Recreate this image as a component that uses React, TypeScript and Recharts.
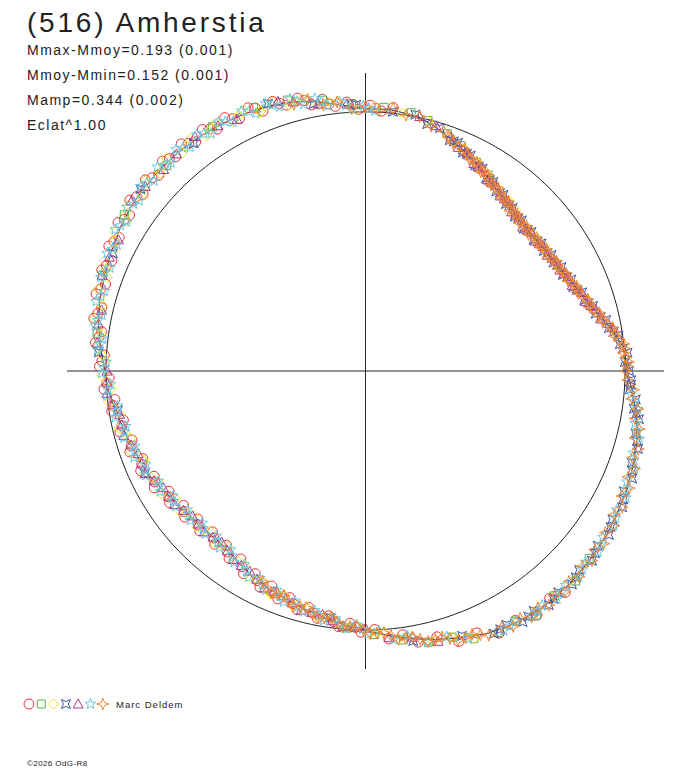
import React from "react";
import { ScatterChart, Scatter, XAxis, YAxis, ReferenceLine } from "recharts";

// rotational phase as an angle (degrees, counter-clockwise from +x) and relative radius
// (1 = mean brightness circle), one list per observer symbol
const redCircles: [number, number][] = [
  [84, 1.022], [86.5, 1.005], [89, 1.026], [91.5, 1.01], [94, 1.04], [96.5, 1.028], [99, 1.062],
  [101.5, 1.048], [104, 1.085], [106.5, 1.07], [109, 1.1], [111.5, 1.078], [114, 1.112], [116.5, 1.088],
  [119, 1.118], [121.5, 1.095], [124, 1.124], [126.5, 1.1], [129, 1.128], [131.5, 1.104], [134, 1.126],
  [136.5, 1.098], [139, 1.124], [141.5, 1.095], [144, 1.122], [146.5, 1.09], [149, 1.112], [151.5, 1.08],
  [154, 1.1], [156.5, 1.066], [159, 1.088], [161.5, 1.056], [164, 1.08], [166.5, 1.045], [169, 1.066],
  [171.5, 1.028], [174, 1.046], [176.5, 1.008], [179, 1.025], [181.5, 0.988], [184, 1.01], [186.5, 0.972],
  [189, 0.99], [191.5, 0.952], [194, 0.975], [196.5, 0.938], [199, 0.96], [201.5, 0.922], [204, 0.948],
  [206.5, 0.91], [209, 0.93], [211.5, 0.888], [214, 0.91], [216.5, 0.872], [219, 0.896], [221.5, 0.862],
  [224, 0.888], [226.5, 0.856], [229, 0.886], [231.5, 0.86], [234, 0.894], [236.5, 0.87], [239, 0.912],
  [241.5, 0.89], [244, 0.928], [246.5, 0.905], [249, 0.942], [251.5, 0.922], [254, 0.958], [256.5, 0.938],
  [259, 0.972], [261.5, 0.955], [264, 0.992], [266.5, 0.975], [269, 1.008], [272, 0.998], [275, 1.038],
  [278, 1.028], [281, 1.066], [285, 1.062], [289, 1.104], [293, 1.098], [297, 1.135], [301, 1.122],
  [305, 1.15], [309, 1.128], [312, 1.15],
  [87.8, 1.015], [92.7, 1.03], [97.8, 1.04], [102.7, 1.07], [107.8, 1.085], [112.7, 1.1], [117.8, 1.1],
  [122.7, 1.11], [127.8, 1.112], [132.7, 1.115], [137.8, 1.11], [142.7, 1.11], [147.8, 1.098],
  [152.7, 1.09], [157.8, 1.078], [162.7, 1.068], [167.8, 1.055], [172.7, 1.035], [177.8, 1.016],
  [182.7, 0.998], [187.8, 0.982], [192.7, 0.962], [197.8, 0.948], [202.7, 0.934], [207.8, 0.918],
  [212.7, 0.9], [217.8, 0.885], [222.7, 0.876], [227.8, 0.87], [232.7, 0.878], [237.8, 0.893],
  [242.7, 0.91], [247.8, 0.925], [252.7, 0.94], [257.8, 0.956], [262.7, 0.975], [267.8, 0.99],
];

const greenSquares: [number, number][] = [
  [58, 0.892], [62, 0.912], [67, 0.944], [71, 0.968], [76, 0.996], [80, 1.012], [86, 1.02], [93, 1.032],
  [99, 1.058], [106, 1.088], [113, 1.104], [122, 1.112], [134, 1.102], [147, 1.108], [160, 1.078],
  [172, 1.044], [266, 0.994], [272, 1.018], [278, 1.048], [283, 1.074], [288, 1.08], [292, 1.114],
  [297, 1.132], [301, 1.126], [305, 1.15], [310, 1.132], [315, 1.146], [320, 1.125],
];

const yellowDiamonds: [number, number][] = [
  [35, 0.842], [38, 0.838], [41, 0.836], [44, 0.84], [47, 0.848], [50, 0.858], [53, 0.87], [56, 0.882],
  [59, 0.898], [62, 0.914], [66, 0.938], [70, 0.962], [76, 0.994], [82, 1.004], [88, 1.018], [92, 1.008],
  [96, 1.045], [100, 1.042], [103, 1.08], [106, 1.068], [109, 1.098], [112, 1.08], [115, 1.11],
  [118, 1.088], [121, 1.118], [124, 1.094], [127, 1.122], [130, 1.098], [133, 1.124], [136, 1.098],
  [139, 1.122], [142, 1.094], [145, 1.118], [148, 1.086], [151, 1.105], [154, 1.072], [157, 1.092],
  [160, 1.058], [163, 1.078], [166, 1.044], [169, 1.062], [172, 1.026], [175, 1.038], [178, 1.0],
  [181, 1.015], [184, 0.982], [187, 0.996], [190, 0.958], [193, 0.975], [196, 0.94], [199, 0.956],
  [202, 0.922], [205, 0.942], [208, 0.904], [211, 0.918], [214, 0.882], [217, 0.898], [220, 0.865],
  [223, 0.886], [226, 0.858], [229, 0.884], [232, 0.862], [235, 0.894], [238, 0.88], [241, 0.916],
  [244, 0.9], [247, 0.934], [250, 0.918], [253, 0.952], [256, 0.938], [259, 0.97], [262, 0.958],
  [265, 0.994], [268, 0.982], [271, 1.016], [274, 1.01], [277, 1.046], [280, 1.04], [284, 1.078],
  [288, 1.078], [292, 1.114],
  [97.5, 1.046], [104.5, 1.072], [110.5, 1.09], [116.5, 1.1], [122.5, 1.105], [128.5, 1.11],
  [134.5, 1.112], [140.5, 1.106], [146.5, 1.102], [152.5, 1.088], [158.5, 1.074], [164.5, 1.06],
  [170.5, 1.042], [176.5, 1.018], [182.5, 0.998], [188.5, 0.976], [194.5, 0.958], [200.5, 0.938],
  [206.5, 0.922], [212.5, 0.9], [218.5, 0.88], [224.5, 0.872], [230.5, 0.87], [236.5, 0.885],
  [242.5, 0.906], [248.5, 0.926], [254.5, 0.944], [260.5, 0.964], [266.5, 0.988], [272.5, 1.012],
];

const blueCrosses: [number, number][] = [
  [0, 1.016], [2, 1.0], [4, 1.012], [6, 0.985], [8, 0.984], [10, 0.952], [12, 0.948], [14, 0.914],
  [16, 0.912], [18, 0.886], [20, 0.888], [22, 0.863], [24, 0.868], [26, 0.846], [28, 0.855], [30, 0.836],
  [32, 0.845], [34, 0.828], [36, 0.838], [38, 0.822], [40, 0.834], [42, 0.821], [44, 0.837], [46, 0.828],
  [48, 0.847], [50, 0.841], [52, 0.863], [54, 0.857], [56, 0.88], [58, 0.877], [60, 0.902], [62, 0.899],
  [64, 0.925], [66, 0.923], [68, 0.95], [70, 0.948], [73, 0.98], [76, 0.982], [79, 1.008], [84, 1.006],
  [92, 1.028], [101, 1.05], [110, 1.098], [127, 1.1], [141, 1.116], [155, 1.074], [176, 1.03],
  [189, 0.966], [205, 0.938], [262, 0.962], [280, 1.058], [290, 1.088], [296, 1.128], [299, 1.12],
  [302, 1.142], [305, 1.13], [308, 1.147], [311, 1.132], [314, 1.145], [317, 1.126], [320, 1.139],
  [323, 1.12], [326, 1.131], [329, 1.11], [332, 1.12], [335, 1.098], [338, 1.108], [341, 1.085],
  [344, 1.092], [347, 1.068], [350, 1.07], [352, 1.044], [354, 1.047], [356, 1.021], [358, 1.024],
  [1, 1.008], [5, 0.996], [9, 0.968], [13, 0.93], [17, 0.898], [21, 0.874], [25, 0.857], [29, 0.844],
  [33, 0.836], [37, 0.83], [41, 0.828], [45, 0.832], [49, 0.844], [53, 0.86], [57, 0.879], [61, 0.9],
  [65, 0.924], [69, 0.949], [297.5, 1.124], [303.5, 1.136], [309.5, 1.14], [315.5, 1.136],
  [321.5, 1.13], [327.5, 1.12], [333.5, 1.11], [339.5, 1.096], [345.5, 1.08], [351, 1.056], [357, 1.024],
];

const purpleTriangles: [number, number][] = [
  [10, 0.965], [12.5, 0.928], [15, 0.918], [17.5, 0.89], [20, 0.886], [22.5, 0.862], [25, 0.862],
  [27.5, 0.844], [30, 0.848], [32.5, 0.831], [35, 0.838], [37.5, 0.824], [40, 0.833], [42.5, 0.822],
  [45, 0.838], [47.5, 0.833], [50, 0.854], [52.5, 0.852], [55, 0.875], [57.5, 0.875], [60, 0.902],
  [62.5, 0.903], [65, 0.93], [67.5, 0.934], [70, 0.961], [74, 0.985], [78, 1.004], [94, 1.034],
  [100, 1.046], [108, 1.094], [117, 1.09], [126, 1.118], [135, 1.1], [144, 1.115], [152, 1.078],
  [160, 1.08], [167, 1.044], [174, 1.04], [180, 0.996], [185, 1.0], [190, 0.962], [195, 0.964],
  [200, 0.932], [205, 0.936], [210, 0.9], [215, 0.898], [220, 0.87], [225, 0.878], [230, 0.862],
  [235, 0.888], [240, 0.892], [245, 0.924], [250, 0.922], [255, 0.955], [260, 0.954], [265, 0.99],
  [270, 0.993], [275, 1.033], [280, 1.043], [285, 1.08],
  [11.2, 0.95], [16.2, 0.904], [21.2, 0.874], [26.2, 0.853], [31.2, 0.84], [36.2, 0.831], [41.2, 0.827],
  [46.2, 0.836], [51.2, 0.853], [56.2, 0.874], [61.2, 0.901], [66.2, 0.932], [105, 1.075], [121, 1.104],
  [131, 1.11], [140, 1.108], [156, 1.08], [170, 1.045], [182.5, 0.998], [187.5, 0.982], [192.5, 0.962],
  [197.5, 0.948], [202.5, 0.934], [207.5, 0.918], [212.5, 0.9], [217.5, 0.884], [222.5, 0.874],
  [227.5, 0.87], [232.5, 0.874], [237.5, 0.89], [242.5, 0.906], [247.5, 0.922], [252.5, 0.938],
  [257.5, 0.954], [262.5, 0.972], [267.5, 0.99],
];

const cyanStars: [number, number][] = [
  [88, 1.004], [90.5, 1.024], [93, 1.012], [95.5, 1.045], [98, 1.034], [100.5, 1.07], [103, 1.056],
  [105.5, 1.09], [108, 1.072], [110.5, 1.102], [113, 1.08], [115.5, 1.112], [118, 1.088], [120.5, 1.116],
  [123, 1.092], [125.5, 1.12], [128, 1.096], [130.5, 1.124], [133, 1.098], [135.5, 1.124], [138, 1.096],
  [140.5, 1.121], [143, 1.092], [145.5, 1.116], [148, 1.085], [150.5, 1.108], [153, 1.074], [155.5, 1.094],
  [158, 1.062], [160.5, 1.082], [163, 1.052], [165.5, 1.072], [168, 1.038], [170.5, 1.056], [173, 1.02],
  [175.5, 1.036], [178, 1.0], [180.5, 1.016], [183, 0.984], [185.5, 1.002], [188, 0.965], [190.5, 0.98],
  [193, 0.948], [195.5, 0.966], [198, 0.934], [200.5, 0.952], [203, 0.92], [205.5, 0.938], [208, 0.904],
  [210.5, 0.918], [213, 0.884], [215.5, 0.9], [218, 0.87], [220.5, 0.888], [223, 0.86], [225.5, 0.882],
  [228, 0.857], [230.5, 0.884], [233, 0.863], [235.5, 0.895], [238, 0.88], [240.5, 0.915], [243, 0.897],
  [245.5, 0.93], [248, 0.912], [250.5, 0.945], [253, 0.928], [255.5, 0.96], [258, 0.944], [260.5, 0.977],
  [263, 0.962], [265.5, 0.997], [268, 0.98], [270.5, 1.015], [273, 1.003], [276, 1.042], [279, 1.035],
  [283, 1.074], [287, 1.072], [291, 1.108], [298, 1.135], [301, 1.125], [304, 1.144], [307, 1.131],
  [310, 1.148], [313, 1.13], [316, 1.143], [319, 1.124], [322, 1.137], [325, 1.117], [328, 1.128],
  [331, 1.106], [334, 1.116], [337, 1.094], [340, 1.103], [343, 1.079], [346, 1.087], [349, 1.058],
  [352, 1.059], [355, 1.027],
  [89.3, 1.014], [94.2, 1.028], [99.3, 1.052], [104.2, 1.074], [109.3, 1.088], [114.2, 1.098],
  [119.3, 1.104], [124.2, 1.108], [129.3, 1.112], [134.2, 1.108], [139.3, 1.112], [144.2, 1.102],
  [149.3, 1.098], [154.2, 1.082], [159.3, 1.074], [164.2, 1.06], [169.3, 1.05], [174.2, 1.027],
  [179.3, 1.008], [184.2, 0.995], [189.3, 0.972], [194.2, 0.958], [199.3, 0.942], [204.2, 0.93],
  [209.3, 0.908], [214.2, 0.895], [219.3, 0.878], [224.2, 0.872], [229.3, 0.872], [234.2, 0.878],
  [239.3, 0.898], [244.2, 0.914], [249.3, 0.93], [254.2, 0.944], [259.3, 0.96], [264.2, 0.98],
  [269.3, 0.998], [299.5, 1.13], [305.5, 1.138], [311.5, 1.14], [317.5, 1.134], [323.5, 1.128],
  [329.5, 1.118], [335.5, 1.105], [341.5, 1.09], [347.5, 1.072], [353.5, 1.042],
];

const orangeStars: [number, number][] = [
  [0, 1.002], [2, 1.014], [4, 0.996], [6, 1.0], [8, 0.969], [10, 0.967], [12, 0.933], [14, 0.928],
  [16, 0.898], [18, 0.9], [20, 0.873], [22, 0.877], [24, 0.854], [26, 0.86], [28, 0.841], [30, 0.849],
  [32, 0.831], [34, 0.841], [36, 0.824], [38, 0.836], [40, 0.82], [42, 0.835], [44, 0.823], [46, 0.842],
  [48, 0.833], [50, 0.855], [52, 0.849], [54, 0.871], [56, 0.866], [58, 0.891], [60, 0.888], [62, 0.913],
  [64, 0.911], [66, 0.937], [69, 0.942], [72, 0.974], [75, 0.978], [78, 1.004], [81, 1.0], [84, 1.02],
  [87, 1.006], [90, 1.02], [93, 1.014], [96, 1.044], [99, 1.041], [102, 1.072], [105, 1.066],
  [244, 0.904], [247, 0.93], [250, 0.922], [253, 0.948], [256, 0.941], [259, 0.967], [262, 0.962],
  [265, 0.99], [268, 0.985], [271, 1.013], [274, 1.012], [277, 1.043], [280, 1.042], [283, 1.072],
  [286, 1.068], [289, 1.098], [292, 1.096], [295, 1.125], [298, 1.119], [300, 1.138], [302, 1.125],
  [304, 1.144], [306, 1.13], [308, 1.147], [310, 1.132], [312, 1.147], [314, 1.129], [316, 1.143],
  [318, 1.125], [320, 1.139], [322, 1.121], [324, 1.134], [326, 1.115], [328, 1.128], [330, 1.108],
  [332, 1.12], [334, 1.1], [336, 1.112], [338, 1.092], [340, 1.103], [342, 1.082], [344, 1.093],
  [346, 1.071], [348, 1.078], [350, 1.054], [352, 1.059], [354, 1.032], [356, 1.035], [358, 1.011],
  [1, 1.01], [3, 1.004], [5, 1.0], [7, 0.985], [9, 0.97], [11, 0.95], [13, 0.93], [15, 0.911],
  [17, 0.9], [19, 0.886], [21, 0.875], [23, 0.866], [25, 0.856], [27, 0.85], [29, 0.845], [31, 0.84],
  [33, 0.836], [35, 0.832], [37, 0.83], [39, 0.828], [41, 0.827], [43, 0.83], [45, 0.832], [47, 0.838],
  [49, 0.845], [51, 0.852], [53, 0.86], [55, 0.868], [57, 0.878], [59, 0.89], [61, 0.9], [63, 0.912],
  [65, 0.924], [67.5, 0.94], [70.5, 0.958], [245.5, 0.918], [248.5, 0.926], [251.5, 0.936],
  [254.5, 0.944], [257.5, 0.954], [260.5, 0.964], [263.5, 0.976], [266.5, 0.988], [269.5, 0.998],
  [272.5, 1.012], [275.5, 1.026], [278.5, 1.042], [281.5, 1.056], [284.5, 1.07], [287.5, 1.083],
  [290.5, 1.098], [293.5, 1.11],
];

// fitted lightcurve, read along the middle of the band
const fitCurve: [number, number][] = [
  [0, 1.009], [5, 1.0], [10, 0.96], [15, 0.911], [20, 0.88], [25, 0.856], [30, 0.842], [35, 0.832],
  [40, 0.827], [45, 0.832], [50, 0.848], [55, 0.868], [60, 0.895], [65, 0.924], [70, 0.955],
  [75, 0.985], [80, 1.005], [85, 1.014], [90, 1.012], [95, 1.03], [100, 1.055], [105, 1.075],
  [110, 1.088], [115, 1.096], [120, 1.102], [125, 1.107], [130, 1.11], [135, 1.111], [140, 1.108],
  [145, 1.104], [150, 1.094], [155, 1.082], [160, 1.07], [165, 1.06], [170, 1.045], [175, 1.025],
  [180, 1.004], [185, 0.992], [190, 0.97], [195, 0.955], [200, 0.94], [205, 0.928], [210, 0.908],
  [215, 0.89], [220, 0.877], [225, 0.87], [230, 0.87], [235, 0.88], [240, 0.9], [245, 0.915],
  [250, 0.93], [255, 0.946], [260, 0.962], [265, 0.982], [270, 1.0], [275, 1.025], [280, 1.05],
  [285, 1.072], [290, 1.095], [295, 1.117], [300, 1.13], [305, 1.138], [310, 1.14], [315, 1.136],
  [320, 1.131], [325, 1.125], [330, 1.116], [335, 1.106], [340, 1.095], [345, 1.082], [350, 1.062],
  [355, 1.034], [360, 1.009],
];

const title = "(516) Amherstia";
const infoLines = ["Mmax-Mmoy=0.193 (0.001)", "Mmoy-Mmin=0.152 (0.001)", "Mamp=0.344 (0.002)", "Eclat^1.00"];
const observer = "Marc Deldem";
const credit = "©2026 OdG-R8";

const toXY = (pts: [number, number][]) =>
  pts.map(([a, r]) => ({
    x: r * Math.cos((a * Math.PI) / 180),
    y: r * Math.sin((a * Math.PI) / 180),
  }));

// mean circle guide (radius 1)
const unitCircle = Array.from({ length: 181 }, (_, i) => ({
  x: Math.cos((i * 2 * Math.PI) / 180),
  y: Math.sin((i * 2 * Math.PI) / 180),
}));

const PATHS: Record<string, string> = {
  square: "M-4,-4H4V4H-4Z",
  diamond: "M0,-5L5,0L0,5L-5,0Z",
  cross: "M-4.5,-4.5L0,-2.5L4.5,-4.5L2.5,0L4.5,4.5L0,2.5L-4.5,4.5L-2.5,0Z",
  triangle: "M0,-5L5,4L-5,4Z",
  star5: "M0,-5.5L1.35,-1.86L5.23,-1.7L2.19,0.71L3.23,4.45L0,2.3L-3.23,4.45L-2.19,0.71L-5.23,-1.7L-1.35,-1.86Z",
  star4: "M0,-6L1.6,-1.6L6,0L1.6,1.6L0,6L-1.6,1.6L-6,0L-1.6,-1.6Z",
};

const Marker = ({ kind, color, cx, cy }: { kind: string; color: string; cx: number; cy: number }) => {
  if (cx == null || cy == null) return null;
  if (kind === "circle") return <circle cx={cx} cy={cy} r={5} fill="none" stroke={color} strokeWidth={1} />;
  return <path d={PATHS[kind]} transform={`translate(${cx},${cy})`} fill="none" stroke={color} strokeWidth={1} />;
};

const series = [
  { name: "red", kind: "circle", color: "#e8323c", data: redCircles },
  { name: "green", kind: "square", color: "#5db44a", data: greenSquares },
  { name: "yellow", kind: "diamond", color: "#f0e41e", data: yellowDiamonds },
  { name: "blue", kind: "cross", color: "#3a54a4", data: blueCrosses },
  { name: "purple", kind: "triangle", color: "#b0368a", data: purpleTriangles },
  { name: "cyan", kind: "star5", color: "#68c8e0", data: cyanStars },
  { name: "orange", kind: "star4", color: "#f2862e", data: orangeStars },
];

const font = "'Liberation Sans', Arial, sans-serif";

const App = () => {
  return (
    <div style={{ position: "absolute", left: 0, top: 0, width: 688, height: 768, background: "#fff" }}>
      <ScatterChart width={688} height={768} margin={{ top: 73, right: 24, bottom: 99, left: 67 }}>
        <XAxis type="number" dataKey="x" domain={[-1.15, 1.15]} allowDataOverflow hide />
        <YAxis type="number" dataKey="y" domain={[-1.15, 1.15]} allowDataOverflow hide />
        <ReferenceLine x={0} stroke="#222" strokeWidth={1} />
        <ReferenceLine y={0} stroke="#222" strokeWidth={1} />
        <Scatter
          data={unitCircle}
          line={{ stroke: "#222", strokeWidth: 1 }}
          lineType="joint"
          shape={() => <g />}
          isAnimationActive={false}
        />
        <Scatter
          data={toXY(fitCurve)}
          line={{ stroke: "#333", strokeWidth: 1 }}
          lineType="joint"
          shape={() => <g />}
          isAnimationActive={false}
        />
        {series.map((s) => (
          <Scatter
            key={s.name}
            data={toXY(s.data)}
            shape={(p: any) => <Marker kind={s.kind} color={s.color} cx={p.cx} cy={p.cy} />}
            isAnimationActive={false}
          />
        ))}
      </ScatterChart>
      <svg width={688} height={768} style={{ position: "absolute", left: 0, top: 0, pointerEvents: "none" }}>
        <text x={27} y={32} fontSize={28} fontFamily={font} fill="#222" letterSpacing={2.8}>
          {title}
        </text>
        {infoLines.map((t, i) => (
          <text key={t} x={27} y={55 + i * 25} fontSize={14} fontFamily={font} fill="#222" letterSpacing={1.5}>
            {t}
          </text>
        ))}
        {series.map((s, i) => (
          <Marker key={s.name} kind={s.kind} color={s.color} cx={29 + i * 12.3} cy={704} />
        ))}
        <text x={116} y={708} fontSize={9.5} fontFamily={font} fill="#222" letterSpacing={1}>
          {observer}
        </text>
        <text x={27} y={766} fontSize={8} fontFamily={font} fill="#222" letterSpacing={0.4}>
          {credit}
        </text>
      </svg>
    </div>
  );
};

export default App;
